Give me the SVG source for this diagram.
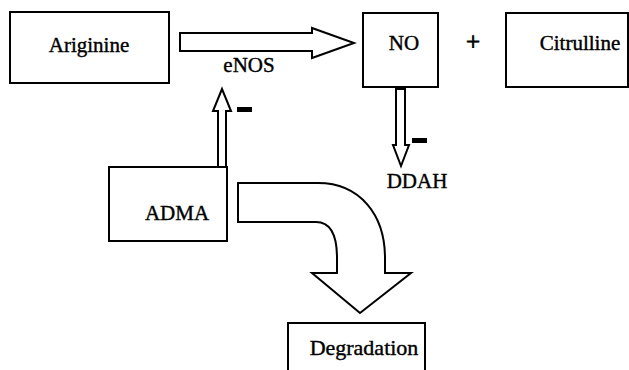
<svg xmlns="http://www.w3.org/2000/svg" width="629" height="370" viewBox="0 0 629 370">
<style>
.box{fill:#fff;stroke:#000;stroke-width:2}
.arr{fill:#fff;stroke:#000;stroke-width:2;stroke-linejoin:miter}
text{font-family:"Liberation Serif","DejaVu Serif","Noto Serif",serif;font-size:21px;fill:#000;text-anchor:middle;stroke:#000;stroke-width:0.4}
.minus{fill:#000}
</style>
<rect width="629" height="370" fill="#fff"/>
<g id="ariginine"><rect class="box" x="10" y="12" width="159" height="71"/><text x="89" y="52">Ariginine</text></g>
<g id="no"><rect class="box" x="363" y="13" width="75" height="74"/><text x="404" y="50">NO</text></g>
<g id="plus"><text x="473" y="50" style="font-size:25px;stroke-width:0.8">+</text></g>
<g id="citrulline"><rect class="box" x="506" y="13" width="122" height="74"/><text x="580" y="50">Citrulline</text></g>
<g id="adma"><rect class="box" x="109" y="167" width="118" height="74"/><text x="177" y="220">ADMA</text></g>
<g id="degradation"><rect class="box" x="288" y="323" width="137" height="60"/><text x="364" y="355" style="font-size:22px">Degradation</text></g>
<g id="connectors">
<path class="arr" d="M180,33 L312,33 L312,28 L354,43 L312,58 L312,51 L180,51 Z"/>
<text x="249" y="72">eNOS</text>
<path class="arr" d="M218,167 L218,111 L213,111 L222,89 L231,111 L226,111 L226,167 Z"/>
<rect class="minus" x="237" y="107" width="15" height="5"/>
<path class="arr" d="M396,89 L405,89 L405,145 L409,145 L401,166 L393,145 L396,145 Z"/>
<rect class="minus" x="412" y="138" width="15" height="5"/>
<text x="417" y="188">DDAH</text>
<path class="arr" d="M238,183 L318,183 C360,183 385,215 385,258 L385,273 L411,273 L360,313 L312,273 L337,273 L337,258 C337,235 330,222 316,222 L238,222 Z"/>
</g>
</svg>
